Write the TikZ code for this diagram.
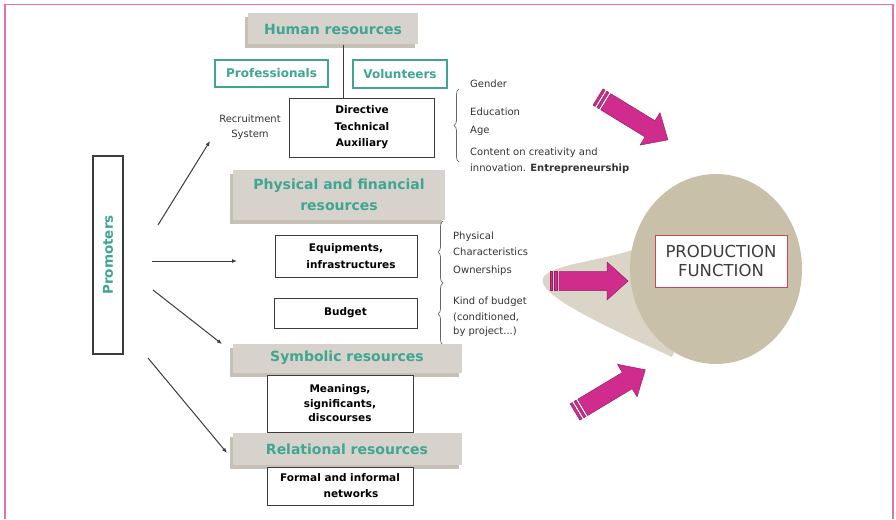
\documentclass[tikz,border=0pt]{standalone}
\usepackage{fontspec}
\setmainfont{DejaVu Sans}
\usetikzlibrary{arrows.meta,decorations.pathreplacing,shadows}

\definecolor{framepink}{RGB}{228,112,172}
\definecolor{hdrtext}{RGB}{62,166,146}
\definecolor{hdrfill}{RGB}{216,210,204}
\definecolor{hdrshade}{RGB}{198,192,182}
\definecolor{discfill}{RGB}{200,192,168}
\definecolor{tailfill}{RGB}{218,213,198}
\definecolor{magarrow}{RGB}{208,44,142}
\definecolor{magedge}{RGB}{150,30,100}
\definecolor{pfedge}{RGB}{200,70,90}
\definecolor{inkgrey}{RGB}{60,60,60}

\tikzset{
  hdr/.style={fill=hdrfill, text=hdrtext, inner sep=0pt, align=center,
    font=\bfseries\fontsize{14}{21}\selectfont,
    general shadow={fill=hdrshade, shadow xshift=-3pt, shadow yshift=-4pt}},
  whitebox/.style={draw=inkgrey, line width=0.9pt, fill=white, inner sep=0pt,
    align=center, font=\bfseries\fontsize{10.5}{16.5}\selectfont},
  tealbox/.style={draw=hdrtext, line width=1.6pt, fill=white, text=hdrtext,
    inner sep=0pt, font=\bfseries\fontsize{12}{14}\selectfont},
  note/.style={anchor=west, inner sep=0pt, text=black!80,
    font=\fontsize{10}{12}\selectfont},
  promoarrow/.style={draw=inkgrey, line width=1pt, -{Latex[length=5pt,width=4pt]}},
  notebrace/.style={draw=black!60, line width=0.7pt, decorate,
    decoration={brace, amplitude=5pt}},
  blockpart/.style={fill=magarrow, draw=magedge, line width=0.5pt, line join=round}
}

% striped block arrow: #1 tail centre, #2 rotation, #3 length
\newcommand{\blockarrow}[3]{%
  \begin{scope}[shift={#1}, rotate=#2]
    \path[blockpart] (0,-9.5) rectangle (2.5,9.5);
    \path[blockpart] (4.5,-9.5) rectangle (7,9.5);
    \path[blockpart] (9,-9.5) -- ({#3-21},-9.5) -- ({#3-21},-19) -- (#3,0)
      -- ({#3-21},19) -- ({#3-21},9.5) -- (9,9.5) -- cycle;
  \end{scope}}

\begin{document}
\begin{tikzpicture}[x=1pt, y=-1pt]
\useasboundingbox (0,0) rectangle (896,519);

% page frame, open at the bottom
\draw[framepink, line width=1.6pt] (5,519) -- (5,4.5) -- (893,4.5) -- (893,519);

% production function disc with its tail
\fill[tailfill] (645,246) .. controls (600,262) and (550,264) .. (543,278)
  .. controls (536,294) and (600,324) .. (672,357) -- (712,268) -- cycle;
\fill[discfill] (716,269) ellipse [x radius=86, y radius=95];
\node[draw=pfedge, line width=0.8pt, fill=white, text=inkgrey, align=center,
  inner sep=0pt, minimum width=132, minimum height=52,
  font=\fontsize{16.5}{19}\selectfont] (pf) at (721,261) {PRODUCTION\\FUNCTION};

% block arrows towards the disc
\blockarrow{(598,97)}{-31.5}{82}
\blockarrow{(550,281)}{0}{78}
\blockarrow{(575,412)}{31}{82}

% human resources
\node[hdr, minimum width=170, minimum height=31] (hr) at (333,29) {Human resources};
\node[tealbox, minimum width=113, minimum height=27] (prof) at (271.5,73.5) {Professionals};
\node[tealbox, minimum width=94, minimum height=28] (vol) at (400,74) {Volunteers};
\node[whitebox, minimum width=145, minimum height=59] (dir) at (362,127.5)
  {Directive\\Technical\\Auxiliary};
\coordinate (stem) at (343,0);
\draw[inkgrey, line width=0.9pt] (hr.south -| stem) -- (dir.north -| stem);
\node[align=center, inner sep=0pt, text=black!80, font=\fontsize{10}{15}\selectfont]
  (recr) at (250,127) {Recruitment\\System};

\draw[notebrace] (459,162) -- (459,89);
\node[note] (g1) at (470,84) {Gender};
\node[note] (g2) at (470,112) {Education};
\node[note] (g3) at (470,131) {Age};
\node[note] (g4) at (470,153) {Content on creativity and};
\node[note] (g5) at (470,169) {innovation. \textbf{Entrepreneurship}};

% physical and financial resources
\node[hdr, minimum width=212, minimum height=50] (pfr) at (339,195)
  {Physical and financial\\resources};
\node[whitebox, minimum width=142, minimum height=42] (eq) at (346,256)
  {Equipments,\\\hspace*{10pt}infrastructures};
\node[whitebox, minimum width=143, minimum height=30] (bud) at (345.5,313) {Budget};
\draw[notebrace] (443,283) -- (443,221);
\draw[notebrace] (443,345) -- (443,283);
\node[note] (c1) at (453,237) {Physical};
\node[note] (c2) at (453,252) {Characteristics};
\node[note] (c3) at (453,271) {Ownerships};
\node[note] (c4) at (453,302) {Kind of budget};
\node[note] (c5) at (453,317) {(conditioned,};
\node[note] (c6) at (453,332) {by project...)};

% symbolic resources
\node[hdr, minimum width=229, minimum height=29] (sym) at (347,358) {Symbolic resources};
\node[whitebox, minimum width=146, minimum height=57,
  font=\bfseries\fontsize{10.5}{14.5}\selectfont] (mean) at (340,403.5)
  {Meanings,\\significants,\\discourses};

% relational resources
\node[hdr, minimum width=229, minimum height=32] (rel) at (347,449) {Relational resources};
\node[whitebox, minimum width=146, minimum height=38,
  font=\bfseries\fontsize{10.5}{16}\selectfont] (net) at (340,486)
  {Formal and informal\\\hspace*{22pt}networks};

% promoters and their arrows
\node[draw=inkgrey, line width=1.2pt, fill=white, rotate=90, inner sep=0pt,
  minimum width=198, minimum height=30, text=hdrtext,
  font=\bfseries\fontsize{13.5}{15}\selectfont] (prom) at (108,255) {Promoters};
\coordinate (a1) at (158,225);
\coordinate (a2) at (152,261);
\coordinate (a3) at (153,290);
\coordinate (a4) at (148,358);
\coordinate (b1) at (210,141);
\coordinate (b2) at (237,261);
\coordinate (b3) at (222,344);
\coordinate (b4) at (227,453);
\draw[promoarrow] (a1) -- (b1);
\draw[promoarrow] (a2) -- (b2);
\draw[promoarrow] (a3) -- (b3);
\draw[promoarrow] (a4) -- (b4);
\end{tikzpicture}
\end{document}
